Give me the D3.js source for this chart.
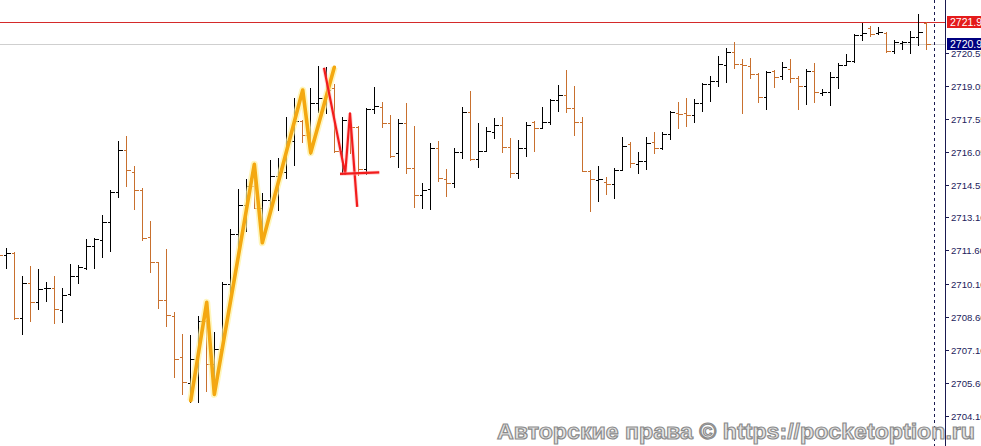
<!DOCTYPE html>
<html><head><meta charset="utf-8">
<script src="https://cdn.jsdelivr.net/npm/d3@7/dist/d3.min.js"></script>
<style>html,body{margin:0;padding:0;background:#fff;overflow:hidden}svg{display:block}</style>
</head><body>
<svg id="c" width="981" height="446"></svg>
<script>
// bar numbers (time slots), first bar partly off-screen
const firstBar = -1;
const open = [2712.44,2711.40,2711.50,2708.53,2710.11,2709.25,2709.89,2709.89,2708.89,2709.63,2710.44,2710.79,2711.79,2712.08,2712.89,2714.27,2716.15,2715.16,2714.33,2712.23,2711.07,2709.36,2708.65,2706.79,2705.58,2706.64,2708.41,2706.46,2707.14,2710.08,2712.35,2713.66,2714.54,2713.51,2713.89,2714.99,2715.17,2716.56,2717.48,2716.83,2718.27,2718.52,2718.95,2716.11,2717.51,2717.21,2715.28,2718.01,2718.12,2717.36,2716.01,2717.36,2715.33,2714.12,2714.37,2716.23,2714.84,2714.65,2716.05,2717.86,2715.75,2716.11,2716.98,2717.29,2716.28,2715.13,2716.23,2717.41,2717.17,2717.44,2718.42,2718.65,2718.07,2717.44,2715.20,2714.80,2714.72,2714.60,2715.25,2716.43,2715.52,2715.66,2716.50,2716.23,2716.87,2717.82,2717.82,2717.74,2718.27,2719.15,2719.28,2720.01,2720.58,2720.04,2719.98,2719.58,2718.54,2719.73,2719.52,2719.83,2719.40,2719.05,2719.73,2718.75,2718.80,2719.48,2720.01,2720.19,2721.37,2721.70,2721.44,2721.47,2720.64,2720.99,2721.03,2721.29,2721.90];
const high = [2712.62,2711.70,2711.52,2710.46,2710.91,2710.76,2710.19,2710.46,2709.91,2710.99,2710.94,2712.12,2712.18,2713.21,2714.34,2716.56,2716.80,2715.43,2714.42,2712.95,2711.10,2711.67,2708.80,2707.82,2707.77,2708.63,2708.45,2707.92,2710.19,2712.57,2714.39,2714.84,2714.80,2714.19,2715.70,2715.78,2717.66,2718.50,2717.51,2718.98,2719.97,2719.93,2719.15,2717.66,2717.82,2717.26,2718.04,2719.00,2718.34,2717.74,2717.56,2718.27,2717.24,2714.65,2716.46,2716.56,2715.29,2716.23,2718.09,2718.83,2717.39,2717.21,2717.59,2717.64,2716.69,2716.61,2717.44,2717.47,2718.12,2718.45,2719.10,2719.78,2719.04,2717.66,2715.25,2715.43,2714.94,2715.35,2716.73,2716.50,2716.05,2716.73,2716.96,2716.96,2717.92,2718.32,2718.50,2718.45,2719.17,2719.51,2720.41,2720.76,2721.06,2720.26,2720.31,2719.63,2719.73,2719.78,2720.16,2720.28,2719.51,2719.81,2720.11,2718.91,2719.68,2720.08,2720.49,2721.40,2721.90,2721.77,2721.74,2721.49,2721.14,2721.09,2721.56,2722.32,2721.95];
const low = [2711.26,2710.79,2708.50,2707.80,2708.42,2708.95,2709.33,2708.33,2708.37,2709.60,2710.14,2710.76,2710.79,2711.32,2711.59,2714.01,2714.54,2713.48,2712.08,2710.64,2708.98,2708.19,2705.85,2705.08,2704.75,2704.75,2705.23,2705.05,2707.12,2709.66,2711.73,2712.50,2713.51,2712.00,2713.44,2713.44,2714.87,2715.47,2716.50,2715.96,2717.86,2717.82,2716.08,2715.07,2716.01,2715.02,2715.07,2717.82,2717.21,2715.82,2715.37,2715.13,2713.56,2713.51,2713.47,2714.76,2714.08,2714.49,2715.81,2715.70,2715.40,2716.09,2716.69,2716.08,2714.92,2714.87,2715.90,2716.12,2717.14,2717.33,2717.94,2717.88,2716.82,2715.18,2713.40,2713.86,2714.16,2713.97,2715.23,2715.40,2715.10,2715.28,2716.03,2716.20,2716.64,2717.14,2717.26,2717.41,2717.94,2718.39,2719.05,2719.25,2719.86,2717.82,2719.40,2718.34,2718.01,2719.02,2719.37,2719.22,2718.01,2718.24,2718.34,2718.65,2718.19,2718.95,2720.00,2720.16,2721.14,2721.33,2721.43,2720.61,2720.54,2720.73,2720.56,2720.91,2720.72];
const close = [2711.40,2711.47,2708.53,2710.11,2709.25,2709.84,2709.91,2708.94,2709.58,2710.44,2710.85,2711.79,2712.11,2712.89,2714.27,2716.15,2715.25,2714.33,2712.18,2711.07,2709.36,2708.68,2706.67,2705.63,2706.67,2708.41,2706.46,2707.14,2710.08,2712.35,2713.66,2714.54,2713.51,2713.89,2714.99,2715.17,2716.56,2717.48,2716.83,2718.27,2718.52,2718.87,2716.11,2717.51,2717.21,2715.28,2718.01,2718.16,2717.36,2715.88,2717.36,2715.33,2714.12,2714.34,2716.23,2714.87,2714.65,2716.05,2717.86,2715.75,2716.11,2717.02,2717.29,2716.28,2715.13,2716.23,2717.29,2717.17,2717.44,2718.42,2718.65,2718.07,2717.44,2715.20,2714.83,2714.83,2714.60,2715.25,2716.35,2715.55,2715.66,2716.46,2716.23,2716.87,2717.89,2717.79,2717.74,2718.27,2719.15,2719.28,2720.04,2720.58,2720.04,2720.01,2719.58,2718.54,2719.70,2719.48,2719.90,2719.40,2719.05,2719.75,2718.80,2718.80,2719.48,2720.01,2720.19,2721.37,2721.44,2721.40,2721.49,2720.64,2721.06,2721.03,2721.29,2721.49,2720.95];

const yTicks = [2720.55,2719.05,2717.55,2716.05,2714.55,2713.10,2711.60,2710.10,2708.60,2707.10,2705.60,2704.10];
const askPrice = 2721.95, bidPrice = 2720.95;
// hand-drawn annotations (bar number, price)
const zigzagBar   = [23.09,25.09,26.04,31.04,32.04,37.09,38.09,41.04];
const zigzagPrice = [2704.79,2709.25,2705.08,2715.51,2711.95,2718.87,2716.03,2719.90];
const redBar   = [39.75,42.4,43.0,43.9];
const redPrice = [2719.88,2715.07,2717.82,2713.58];
const redLevelBar = [41.75,46.66];
const redLevelPrice = [2715.07,2715.14];
const watermark = "Авторские права © https://pocketoption.ru";

const svg = d3.select("#c");
const W = 981, H = 446, axisX = 945;
const x = d3.scaleLinear().domain([0, 115]).range([6, 926]);
const y = d3.scaleLinear().domain([2704.10, 2720.55]).range([416, 53]);
const up = "#000000", down = "#c8702e";
const bars = open.map((o,i)=>({n:firstBar+i,o,h:high[i],l:low[i],c:close[i]}));
const px = v => Math.round(v)+0.5;

// bid / ask lines
svg.append("line").attr("x1",0).attr("x2",axisX).attr("y1",px(y(bidPrice))).attr("y2",px(y(bidPrice)))
  .attr("stroke","#cfcfcf").attr("stroke-width",1);
svg.append("line").attr("x1",0).attr("x2",axisX).attr("y1",px(y(askPrice))).attr("y2",px(y(askPrice)))
  .attr("stroke","#d42a2a").attr("stroke-width",1);

// OHLC bars
const g = svg.append("g").attr("shape-rendering","crispEdges");
bars.forEach(b=>{
  const cx = px(x(b.n)), col = b.c < b.o ? down : up;
  g.append("line").attr("x1",cx).attr("x2",cx).attr("y1",Math.round(y(b.h))).attr("y2",Math.round(y(b.l))+1).attr("stroke",col);
  g.append("line").attr("x1",cx-3).attr("x2",cx).attr("y1",px(y(b.o))).attr("y2",px(y(b.o))).attr("stroke",col);
  g.append("line").attr("x1",cx).attr("x2",cx+4).attr("y1",px(y(b.c))).attr("y2",px(y(b.c))).attr("stroke",col);
});

// annotations
const line = d3.line().x(d=>x(d[0])).y(d=>y(d[1]));
const zz = zigzagBar.map((b,i)=>[b,zigzagPrice[i]]);
svg.append("path").attr("d",line(zz)).attr("fill","none").attr("stroke","#fff2a0").attr("stroke-width",7).attr("stroke-linejoin","round").attr("opacity",0.7);
svg.append("path").attr("d",line(zz)).attr("fill","none").attr("stroke","#f4a810").attr("stroke-width",3.6).attr("stroke-linejoin","round").attr("stroke-linecap","round");
const rz = redBar.map((b,i)=>[b,redPrice[i]]);
const rl = redLevelBar.map((b,i)=>[b,redLevelPrice[i]]);
[rz, rl].forEach(p=>{
  svg.append("path").attr("d",line(p)).attr("fill","none").attr("stroke","#ffb0b0").attr("stroke-width",4).attr("opacity",0.5);
  svg.append("path").attr("d",line(p)).attr("fill","none").attr("stroke","#f21c1c").attr("stroke-width",2.2).attr("stroke-linejoin","round");
});

// current-bar dashed separator
svg.append("line").attr("x1",px(x(116))).attr("x2",px(x(116))).attr("y1",0).attr("y2",H)
  .attr("stroke","#1a1a50").attr("stroke-dasharray","3,3").attr("shape-rendering","crispEdges");

// right price axis
svg.append("line").attr("x1",axisX+0.5).attr("x2",axisX+0.5).attr("y1",0).attr("y2",H)
  .attr("stroke","#1a1a50").attr("shape-rendering","crispEdges");
const ax = svg.append("g");
yTicks.forEach(t=>{
  const yy = px(y(t));
  ax.append("line").attr("x1",axisX).attr("x2",axisX+4).attr("y1",yy).attr("y2",yy).attr("stroke","#1a1a50").attr("shape-rendering","crispEdges");
  ax.append("text").attr("x",axisX+6).attr("y",yy).attr("dy","0.36em").text(t.toFixed(2))
    .attr("font-family","Liberation Sans, Arial, sans-serif").attr("font-size","9.6px").attr("fill","#1c1c5c");
});
// price boxes
[[askPrice,"#e41b1b"],[bidPrice,"#000080"]].forEach(([p,c])=>{
  const yy = y(p);
  svg.append("rect").attr("x",axisX+2).attr("y",Math.round(yy)-6).attr("width",W-axisX).attr("height",12).attr("fill",c);
  svg.append("text").attr("x",axisX+5).attr("y",yy).attr("dy","0.36em").text(p.toFixed(2))
    .attr("font-family","Liberation Sans, Arial, sans-serif").attr("font-size","10.5px").attr("fill","#fff");
});

// watermark
svg.append("text").attr("x",497).attr("y",439).text(watermark)
  .attr("font-family","Liberation Sans, Arial, sans-serif").attr("font-weight","bold").attr("font-size","22px")
  .attr("textLength",478).attr("lengthAdjust","spacingAndGlyphs")
  .attr("fill","#e4e4e4").attr("stroke","#8a8a8a").attr("stroke-width",1.1);
</script>
</body></html>
